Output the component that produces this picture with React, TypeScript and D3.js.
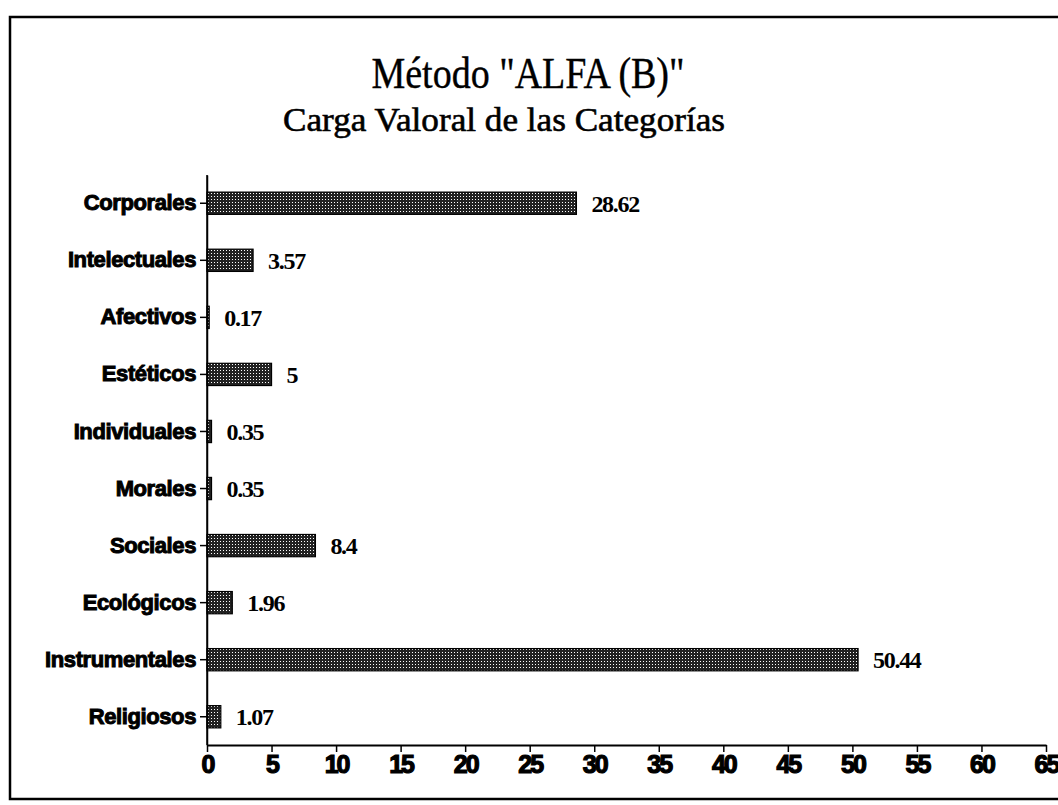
import React, { useEffect, useRef } from "react";
import * as d3 from "d3";

const categories = [
  "Corporales",
  "Intelectuales",
  "Afectivos",
  "Estéticos",
  "Individuales",
  "Morales",
  "Sociales",
  "Ecológicos",
  "Instrumentales",
  "Religiosos",
];
const values = [28.62, 3.57, 0.17, 5, 0.35, 0.35, 8.4, 1.96, 50.44, 1.07];
const valueLabels = ["28.62", "3.57", "0.17", "5", "0.35", "0.35", "8.4", "1.96", "50.44", "1.07"];
const xTicks = [0, 5, 10, 15, 20, 25, 30, 35, 40, 45, 50, 55, 60, 65];

const W = 1058;
const H = 805;

const App = () => {
  const ref = useRef<SVGSVGElement>(null);

  useEffect(() => {
    document.body.style.margin = "0";
    const svg = d3.select(ref.current);
    svg.selectAll("*").remove();

    // dotted fill like the print
    const defs = svg.append("defs");
    const pat = defs
      .append("pattern")
      .attr("id", "dots")
      .attr("width", 3)
      .attr("height", 3)
      .attr("patternUnits", "userSpaceOnUse");
    pat.append("rect").attr("width", 3).attr("height", 3).attr("fill", "#222");
    pat.append("rect").attr("x", 1).attr("y", 1).attr("width", 1).attr("height", 1).attr("fill", "#fff");

    // frame
    svg
      .append("rect")
      .attr("x", 10)
      .attr("y", 17)
      .attr("width", 1060)
      .attr("height", 782)
      .attr("fill", "none")
      .attr("stroke", "#000")
      .attr("stroke-width", 2.5);

    svg
      .append("text")
      .attr("x", 528)
      .attr("y", 88)
      .attr("text-anchor", "middle")
      .attr("textLength", 313)
      .attr("lengthAdjust", "spacingAndGlyphs")
      .style("font-family", "'Liberation Serif', serif")
      .style("font-size", "44px")
      .attr("stroke", "#000")
      .attr("stroke-width", 0.4)
      .text('Método "ALFA (B)"');

    svg
      .append("text")
      .attr("x", 504)
      .attr("y", 131)
      .attr("text-anchor", "middle")
      .attr("textLength", 442)
      .attr("lengthAdjust", "spacingAndGlyphs")
      .style("font-family", "'Liberation Serif', serif")
      .style("font-size", "33px")
      .attr("stroke", "#000")
      .attr("stroke-width", 0.6)
      .text("Carga Valoral de las Categorías");

    const x = d3.scaleLinear().domain([0, 65]).range([207, 1046]);
    const y = d3.scaleBand().domain(categories).range([175, 745]).paddingInner(0.61).paddingOuter(0.3);

    const g = svg.append("g");

    g.selectAll("rect.bar")
      .data(values)
      .enter()
      .append("rect")
      .attr("class", "bar")
      .attr("x", x(0))
      .attr("y", (d, i) => y(categories[i])!)
      .attr("width", (d) => x(d) - x(0))
      .attr("height", y.bandwidth())
      .attr("fill", "url(#dots)")
      .attr("stroke", "#000")
      .attr("stroke-width", 1.2);

    g.selectAll("text.val")
      .data(values)
      .enter()
      .append("text")
      .attr("class", "val")
      .attr("x", (d) => x(d) + 15)
      .attr("y", (d, i) => y(categories[i])! + y.bandwidth() / 2)
      .attr("dy", "0.35em")
      .style("font-family", "'Liberation Serif', serif")
      .style("font-weight", "bold")
      .style("font-size", "24px")
      .style("letter-spacing", "-1.3px")
      .text((d, i) => valueLabels[i]);

    // y axis
    const yAxis = g
      .append("g")
      .attr("transform", `translate(${x(0)},0)`)
      .call(d3.axisLeft(y).tickSize(7).tickPadding(4).tickSizeOuter(0));
    yAxis.select(".domain").attr("stroke", "#000").attr("stroke-width", 1.5);
    yAxis.selectAll("line").attr("stroke", "#000").attr("stroke-width", 1.5);
    yAxis
      .selectAll("text")
      .style("font-family", "'Liberation Sans', Arial, sans-serif")
      .style("font-weight", "bold")
      .style("font-size", "22px")
      .style("letter-spacing", "-0.4px")
      .attr("stroke", "#000")
      .attr("stroke-width", 1)
      .attr("fill", "#000");

    // x axis
    const xAxis = g
      .append("g")
      .attr("transform", "translate(0,745)")
      .call(d3.axisBottom(x).tickValues(xTicks).tickSize(7).tickPadding(3).tickSizeOuter(0));
    xAxis.select(".domain").attr("stroke", "#000").attr("stroke-width", 2);
    xAxis.selectAll("line").attr("stroke", "#000").attr("stroke-width", 1.5);
    xAxis
      .selectAll("text")
      .style("font-family", "'Liberation Sans', Arial, sans-serif")
      .style("font-weight", "bold")
      .style("font-size", "25px")
      .style("letter-spacing", "-2px")
      .attr("stroke", "#000")
      .attr("stroke-width", 1.2)
      .attr("fill", "#000");

    // vertical axis extends above the first bar
    g.append("line")
      .attr("x1", x(0))
      .attr("x2", x(0))
      .attr("y1", 175)
      .attr("y2", 745)
      .attr("stroke", "#000")
      .attr("stroke-width", 1.5);
  }, []);

  return <svg ref={ref} width={W} height={H} style={{ display: "block", background: "#fff" }} />;
};

export default App;
